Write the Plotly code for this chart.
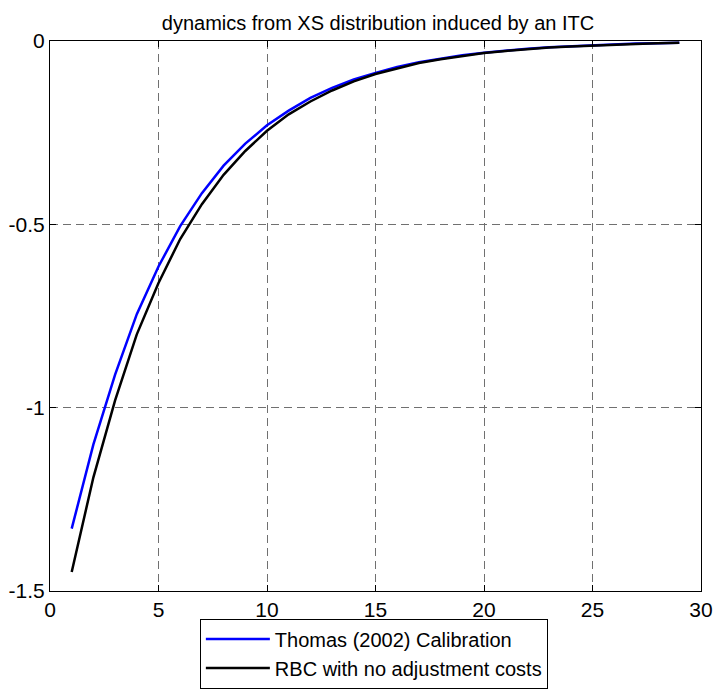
import plotly.graph_objects as go

periods = list(range(1, 30))
thomas = [-1.33, -1.10, -0.91, -0.745, -0.615, -0.505, -0.415, -0.34, -0.28, -0.23,
          -0.19, -0.155, -0.128, -0.105, -0.087, -0.071, -0.058, -0.048, -0.039, -0.032,
          -0.026, -0.021, -0.017, -0.014, -0.011, -0.009, -0.007, -0.006, -0.005]
rbc = [-1.448, -1.19, -0.98, -0.80, -0.66, -0.54, -0.445, -0.365, -0.30, -0.245,
       -0.20, -0.165, -0.135, -0.11, -0.09, -0.074, -0.06, -0.05, -0.041, -0.033,
       -0.027, -0.022, -0.018, -0.015, -0.012, -0.01, -0.008, -0.006, -0.005]
xticks = [0, 5, 10, 15, 20, 25, 30]
yticks = [-1.5, -1, -0.5, 0]
ytick_text = ["-1.5", "-1", "-0.5", "0"]

FONT = "Liberation Sans, Arial, sans-serif"

fig = go.Figure()
fig.add_trace(go.Scatter(x=periods, y=thomas, mode="lines", name="Thomas (2002) Calibration",
                         line=dict(color="#0000ff", width=2.5)))
fig.add_trace(go.Scatter(x=periods, y=rbc, mode="lines", name="RBC with no adjustment costs",
                         line=dict(color="#000000", width=2.5)))

axis_common = dict(showline=True, linecolor="black", linewidth=1, mirror="ticks",
                   ticks="inside", ticklen=6, tickcolor="black",
                   showgrid=True, gridcolor="#707070", griddash="8px,5px", gridwidth=1,
                   zeroline=False, automargin=False,
                   tickfont=dict(size=21, color="black", family=FONT))
fig.update_xaxes(range=[0, 30], tickvals=xticks, **axis_common)
fig.update_yaxes(range=[-1.5, 0], tickvals=yticks, ticktext=ytick_text, **axis_common)

fig.update_layout(
    width=720, height=700,
    margin=dict(l=50, r=19, t=41, b=98),
    plot_bgcolor="white", paper_bgcolor="white",
    title=dict(text="dynamics from XS distribution induced by an ITC", x=0.525, xanchor="center",
               y=0.957, yanchor="bottom",
               font=dict(size=20, color="black", family=FONT)),
    font=dict(family=FONT, color="black"),
    legend=dict(x=0.2302, y=-0.05, xanchor="left", yanchor="top",
                bordercolor="black", borderwidth=1, bgcolor="white", itemwidth=64,
                font=dict(size=20, color="black", family=FONT), tracegroupgap=0),
)
fig.write_html("out.html", config={"displayModeBar": False},
               post_script="document.body.style.margin='0px';")
